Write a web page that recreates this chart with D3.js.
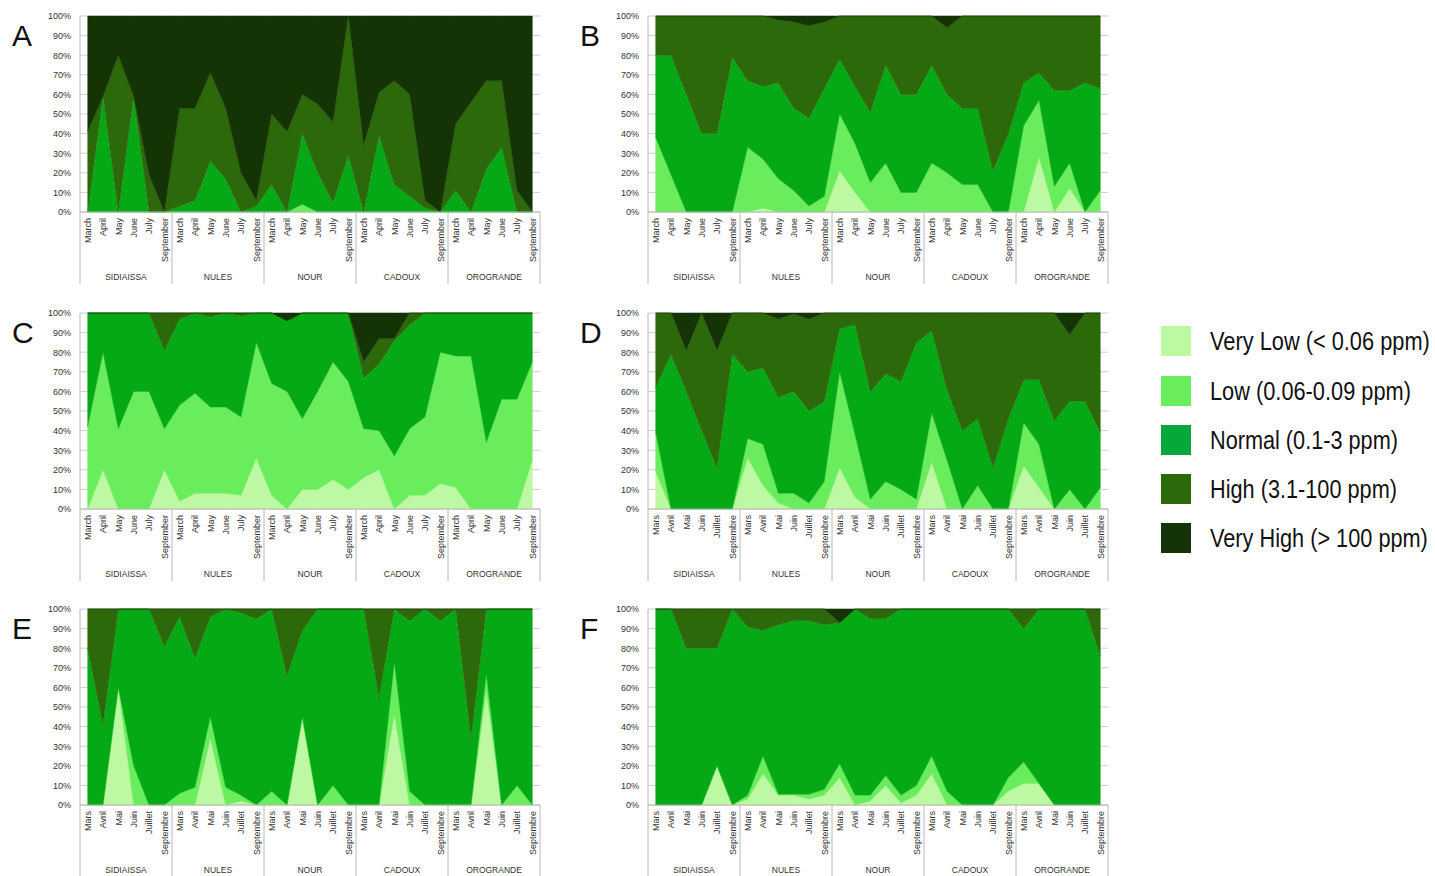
<!DOCTYPE html>
<html>
<head>
<meta charset="utf-8">
<script src="https://cdn.jsdelivr.net/npm/d3@7"></script>
<style>
  html, body { margin: 0; padding: 0; background: #ffffff; }
  svg { display: block; }
  text { font-family: "Liberation Sans", Arial, sans-serif; }
</style>
</head>
<body>
<svg id="chart" width="1435" height="876"></svg>
<script>
// ---------------- DATA ----------------
const sites = ["SIDIAISSA", "NULES", "NOUR", "CADOUX", "OROGRANDE"];
const monthsEN = ["March", "April", "May", "June", "July", "September"];
const monthsFR = ["Mars", "Avril", "Mai", "Juin", "Juillet", "Septembre"];
const classKeys = ["veryLow", "low", "normal", "high", "veryHigh"];
const classLabels = ["Very Low (< 0.06 ppm)", "Low (0.06-0.09 ppm)", "Normal (0.1-3 ppm)", "High (3.1-100 ppm)", "Very High (> 100 ppm)"];
const classColors = ["#bdf8a2", "#6aed5c", "#05a916", "#2b690a", "#153406"];
const legendColors = ["#bdf8a2", "#6aed5c", "#05a93a", "#2b690a", "#153406"];
const yTickValues = [0, 0.1, 0.2, 0.3, 0.4, 0.5, 0.6, 0.7, 0.8, 0.9, 1];
const panelLetters = ["A", "B", "C", "D", "E", "F"];

// Panel A (% of samples per class, 5 sites x 6 months)
const A_veryLow  = [0,0,0,0,0,0, 0,0,0,0,0,0, 0,0,0,0,0,0, 0,0,0,0,0,0, 0,0,0,0,0,0];
const A_low      = [0,0,0,0,0,0, 0,0,0,0,0,0, 0,0,4,0,0,0, 0,0,0,0,0,0, 0,0,0,0,0,0];
const A_normal   = [0,59,0,59,0,0, 3,6,26,17,0,3, 14,0,36,20,5,29, 0,39,14,8,2,0, 11,0,22,33,0,0];
const A_high     = [41,0,80,0,19,0, 50,47,45,36,20,3, 36,41,20,35,41,71, 34,22,53,52,4,0, 34,56,45,34,11,0];
const A_veryHigh = [59,41,20,41,81,100, 47,47,29,47,80,94, 50,59,40,45,54,0, 66,39,33,40,94,100, 55,44,33,33,89,100];

// Panel B
const B_veryLow  = [0,0,0,0,0,0, 0,2,0,0,0,0, 21,10,0,0,0,0, 0,0,0,0,0,0, 0,28,0,12,0,0];
const B_low      = [38,19,0,0,0,0, 33,25,17,11,3,8, 29,25,15,25,10,10, 25,20,14,14,0,0, 44,29,13,13,0,11];
const B_normal   = [42,61,60,40,40,79, 34,37,49,42,45,55, 28,29,36,50,50,50, 50,40,39,39,21,40, 22,14,49,37,66,52];
const B_high     = [20,20,40,60,60,21, 33,36,32,44,47,34, 22,36,49,25,40,40, 25,34,47,47,79,60, 34,29,38,38,34,37];
const B_veryHigh = [0,0,0,0,0,0, 0,0,2,3,5,3, 0,0,0,0,0,0, 0,6,0,0,0,0, 0,0,0,0,0,0];

// Panel C
const C_veryLow  = [0,20,0,0,0,20, 4,8,8,8,7,26, 7,0,10,10,15,10, 16,20,0,7,7,13, 11,0,0,0,0,25];
const C_low      = [42,60,41,60,60,21, 49,51,44,44,40,59, 57,60,36,50,60,55, 25,20,27,34,40,67, 67,78,34,56,56,50];
const C_normal   = [58,20,59,40,40,40, 44,41,46,48,51.5,15, 36,36,54,40,25,35, 26,34,59,53,53,20, 22,22,66,44,44,25];
const C_high     = [0,0,0,0,0,19, 3,0,2,0,1.5,0, 0,0,0,0,0,0, 8,13,1,6,0,0, 0,0,0,0,0,0];
const C_veryHigh = [0,0,0,0,0,0, 0,0,0,0,0,0, 0,4,0,0,0,0, 25,13,13,0,0,0, 0,0,0,0,0,0];

// Panel D
const D_veryLow  = [19,0,0,0,0,0, 26,12,3,0,0,0, 21,6,0,0,0,0, 24,0,0,0,0,0, 22,11,0,0,0,0];
const D_low      = [20,0,0,0,0,0, 10,21,5,8,3,14, 49,32,5,14,10,5, 25,25,0,12,0,0, 22,22,0,10,0,11];
const D_normal   = [23,79,60,40,21,79, 34,39,49,52,47,41, 22,56,55,55,55,80, 42,36,40,34,21,46, 22,33,45,45,55,28];
const D_high     = [38,21,21,60,60,21, 30,28,40,39.5,47,45, 8,6,40,31,35,15, 9,39,60,54,79,54, 34,34,55,34,45,61];
const D_veryHigh = [0,0,19,0,19,0, 0,0,3,0.5,3,0, 0,0,0,0,0,0, 0,0,0,0,0,0, 0,0,0,11,0,0];

// Panel E
const E_veryLow  = [0,0,60,0,0,0, 0,0,34,0,2,0, 0,0,45,0,0,0, 0,0,46,0,0,0, 0,0,58,0,0,0];
const E_low      = [0,0,0,20,0,0, 6,9,11,9,3,0, 7,0,0,0,10,0, 0,0,27,7,0,0, 0,0,9,0,10,0];
const E_normal   = [80,41,40,80,100,81, 90,66,51,91,93,95, 93,66,44,100,90,100, 100,55,27,87,100,94, 100,34,33,100,90,100];
const E_high     = [20,59,0,0,0,19, 4,25,4,0,2,5, 0,34,11,0,0,0, 0,45,0,6,0,6, 0,66,0,0,0,0];
const E_veryHigh = [0,0,0,0,0,0, 0,0,0,0,0,0, 0,0,0,0,0,0, 0,0,0,0,0,0, 0,0,0,0,0,0];

// Panel F
const F_veryLow  = [0,0,0,0,20,0, 3,16,5,5,3,5, 14,0,2,10,1,5, 16,0,0,0,0,7, 11,11,0,0,0,0];
const F_low      = [0,0,0,0,0,0, 2,9,0.5,0.5,2.5,3, 7,5,3,5,4,5, 9,7,0,0,0,7, 11,0,0,0,0,0];
const F_normal   = [100,100,80,80,60,100, 86,64,86.5,88.5,88.5,84, 72,95,90,80,95,90, 75,93,100,100,100,86, 68,89,100,100,100,76];
const F_high     = [0,0,20,20,20,0, 9,11,8,6,6,8, 0,0,5,5,0,0, 0,0,0,0,0,0, 10,0,0,0,0,24];
const F_veryHigh = [0,0,0,0,0,0, 0,0,0,0,0,0, 7,0,0,0,0,0, 0,0,0,0,0,0, 0,0,0,0,0,0];

// ---------------- BUILD ----------------
const panelSeries = [
  [A_veryLow, A_low, A_normal, A_high, A_veryHigh],
  [B_veryLow, B_low, B_normal, B_high, B_veryHigh],
  [C_veryLow, C_low, C_normal, C_high, C_veryHigh],
  [D_veryLow, D_low, D_normal, D_high, D_veryHigh],
  [E_veryLow, E_low, E_normal, E_high, E_veryHigh],
  [F_veryLow, F_low, F_normal, F_high, F_veryHigh]
];
const panelMonths = [monthsEN, monthsEN, monthsEN, monthsFR, monthsFR, monthsFR];

const svg = d3.select("#chart");
const plotW = 460, plotH = 196;
const colX = [80, 648];
const rowY = [16, 313, 609];
const axisColor = "#b8b8b8";

panelSeries.forEach((series, p) => {
  const x0 = colX[p % 2], y0 = rowY[Math.floor(p / 2)];
  const months = panelMonths[p];
  const cats = [];
  sites.forEach(s => months.forEach(m => cats.push(s + "|" + m)));
  const rows = cats.map((c, i) => {
    const r = { cat: c };
    classKeys.forEach((k, j) => r[k] = series[j][i]);
    return r;
  });

  const x = d3.scalePoint().domain(cats).range([x0, x0 + plotW]).padding(0.5);
  const y = d3.scaleLinear().domain([0, 1]).range([y0 + plotH, y0]);
  const stacked = d3.stack().keys(classKeys).offset(d3.stackOffsetExpand)(rows);

  const g = svg.append("g");

  // gridlines
  g.append("g").selectAll("line").data(yTickValues).join("line")
    .attr("x1", x0).attr("x2", x0 + plotW)
    .attr("y1", d => y(d)).attr("y2", d => y(d))
    .attr("stroke", "#cfcfcf").attr("stroke-width", 1);

  // areas
  const area = d3.area()
    .x(d => x(d.data.cat))
    .y0(d => y(d[0]))
    .y1(d => y(d[1]));
  g.append("g").selectAll("path").data(stacked).join("path")
    .attr("d", area)
    .attr("fill", (d, i) => classColors[i])
    .attr("stroke", (d, i) => classColors[i])
    .attr("stroke-width", 0.4);

  // y axis
  const yAxis = d3.axisLeft(y).tickValues(yTickValues).tickFormat(d3.format(".0%")).tickSize(0).tickPadding(9);
  const ya = g.append("g").attr("transform", `translate(${x0},0)`).call(yAxis);
  ya.select(".domain").remove();
  ya.selectAll("text").attr("font-size", 9).attr("fill", "#333")
    .attr("font-family", "'Liberation Sans', Arial, sans-serif");

  // x axis with month labels
  const xAxis = d3.axisBottom(x).tickSize(0).tickFormat(d => d.split("|")[1]);
  const xa = g.append("g").attr("transform", `translate(0,${y0 + plotH})`).call(xAxis);
  xa.select(".domain").remove();
  xa.selectAll("text")
    .attr("font-size", 9).attr("fill", "#333")
    .attr("font-family", "'Liberation Sans', Arial, sans-serif")
    .attr("transform", "rotate(-90)")
    .attr("text-anchor", "end")
    .attr("x", -6).attr("y", 0).attr("dy", "0.32em");

  // axis lines
  g.append("line").attr("x1", x0).attr("x2", x0 + plotW)
    .attr("y1", y0 + plotH).attr("y2", y0 + plotH).attr("stroke", axisColor);
  g.append("line").attr("x1", x0).attr("x2", x0)
    .attr("y1", y0).attr("y2", y0 + plotH + 72).attr("stroke", axisColor);
  const groupW = plotW / sites.length;
  g.append("g").selectAll("line").data(d3.range(1, sites.length + 1)).join("line")
    .attr("x1", i => x0 + i * groupW).attr("x2", i => x0 + i * groupW)
    .attr("y1", y0 + plotH).attr("y2", y0 + plotH + 72)
    .attr("stroke", axisColor);

  // site labels
  g.append("g").selectAll("text").data(sites).join("text")
    .attr("x", (d, i) => x0 + (i + 0.5) * groupW)
    .attr("y", y0 + plotH + 68)
    .attr("text-anchor", "middle")
    .attr("font-size", 8.5).attr("fill", "#333")
    .text(d => d);

  // panel letter
  svg.append("text")
    .attr("x", x0 - 68).attr("y", y0 + 30)
    .attr("font-size", 30).attr("fill", "#111")
    .text(panelLetters[p]);
});

// legend (text horizontally condensed, as in the reference)
const lg = svg.append("g");
const legY = [341, 391, 440, 489, 538];
const legTextW = [220, 201, 188, 187, 218];
classLabels.forEach((lab, i) => {
  lg.append("rect").attr("x", 1161).attr("y", legY[i] - 15).attr("width", 30).attr("height", 30)
    .attr("fill", legendColors[i]);
  const tg = lg.append("g").attr("transform", `translate(1210,${legY[i]})`);
  const t = tg.append("text").attr("x", 0).attr("y", 0).attr("dy", "0.35em")
    .attr("font-size", 25).attr("fill", "#111")
    .text(lab);
  const natural = t.node().getComputedTextLength();
  const s = Math.min(1, legTextW[i] / natural);
  tg.attr("transform", `translate(1210,${legY[i]}) scale(${s},1)`);
});
</script>
</body>
</html>
